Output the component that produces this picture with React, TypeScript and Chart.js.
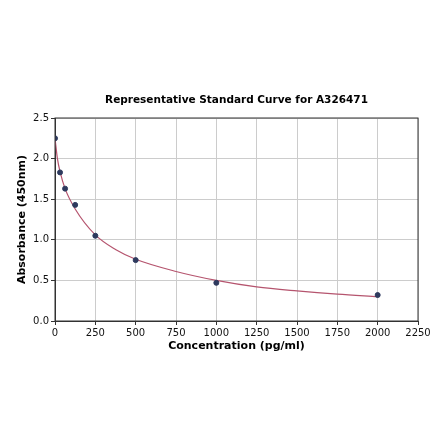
import React, { useEffect, useRef } from 'react';
import { Chart, registerables } from 'chart.js';

Chart.register(...registerables);

// standard points (concentration pg/ml -> absorbance)
const standardConc = [0, 31.25, 62.5, 125, 250, 500, 1000, 2000];
const standardOD = [2.25, 1.83, 1.63, 1.43, 1.05, 0.75, 0.47, 0.32];

// fitted curve
const curveConc = [0, 15, 31.25, 62.5, 125, 250, 375, 500, 750, 1000, 1250, 1500, 1750, 2000];
const curveOD = [2.25, 2.0, 1.84, 1.63, 1.38, 1.06, 0.88, 0.76, 0.61, 0.5, 0.42, 0.37, 0.33, 0.3];

const TITLE = 'Representative Standard Curve for A326471';
const FONT = "'DejaVu Sans', sans-serif";

// plot frame + title centred over the plot area
const frame = {
  id: 'frame',
  afterDraw(chart: Chart) {
    const { ctx, chartArea } = chart;
    ctx.save();
    ctx.strokeStyle = '#333333';
    ctx.lineWidth = 1;
    ctx.strokeRect(chartArea.left, chartArea.top, chartArea.right - chartArea.left, chartArea.bottom - chartArea.top);
    ctx.fillStyle = '#000';
    ctx.font = `bold 10.5px ${FONT}`;
    ctx.textAlign = 'center';
    ctx.textBaseline = 'middle';
    ctx.fillText(TITLE, (chartArea.left + chartArea.right) / 2, chartArea.top - 18);
    ctx.restore();
  },
};

const App: React.FC = () => {
  const canvasRef = useRef<HTMLCanvasElement>(null);
  const chartRef = useRef<Chart | null>(null);

  useEffect(() => {
    if (!canvasRef.current) return;
    if (chartRef.current) chartRef.current.destroy();

    chartRef.current = new Chart(canvasRef.current, {
      type: 'scatter',
      data: {
        datasets: [
          {
            label: 'Fit',
            data: curveConc.map((x, i) => ({ x, y: curveOD[i] })),
            showLine: true,
            borderColor: '#b5546e',
            borderWidth: 1.2,
            pointRadius: 0,
            cubicInterpolationMode: 'monotone',
            order: 2,
          },
          {
            label: 'Standards',
            data: standardConc.map((x, i) => ({ x, y: standardOD[i] })),
            backgroundColor: '#2e3a5e',
            borderColor: '#2e3a5e',
            pointRadius: 2.5,
            order: 1,
          },
        ],
      },
      options: {
        animation: false,
        responsive: true,
        maintainAspectRatio: false,
        layout: { padding: { left: 16, right: 22, top: 118, bottom: 88 } },
        plugins: {
          legend: { display: false },
          tooltip: { enabled: false },
          title: { display: false },
        },
        scales: {
          x: {
            type: 'linear',
            min: 0,
            max: 2250,
            ticks: {
              stepSize: 250,
              color: '#111',
              font: { family: FONT, size: 10 },
              maxRotation: 0,
              padding: 2,
              callback: (v: any) => String(v),
            },
            grid: { color: '#cccccc', tickLength: 4, tickColor: '#333' },
            border: { color: '#333' },
            title: {
              display: true,
              text: 'Concentration (pg/ml)',
              color: '#000',
              font: { family: FONT, size: 11, weight: 'bold' },
              padding: 0,
            },
            afterFit: (s: any) => { s.height = 32; },
          },
          y: {
            type: 'linear',
            min: 0,
            max: 2.5,
            ticks: {
              stepSize: 0.5,
              color: '#111',
              font: { family: FONT, size: 10 },
              padding: 2,
              callback: (v: any) => Number(v).toFixed(1),
            },
            grid: { color: '#cccccc', tickLength: 4, tickColor: '#333' },
            border: { color: '#333' },
            title: {
              display: true,
              text: 'Absorbance (450nm)',
              color: '#000',
              font: { family: FONT, size: 11, weight: 'bold' },
              padding: 0,
            },
            afterFit: (s: any) => { s.width = 39; },
          },
        },
      },
      plugins: [frame],
    });

    return () => {
      if (chartRef.current) {
        chartRef.current.destroy();
        chartRef.current = null;
      }
    };
  }, []);

  return (
    <div style={{ position: 'fixed', left: 0, top: 0, width: '440px', height: '441px', background: '#fff' }}>
      <canvas ref={canvasRef}></canvas>
    </div>
  );
};

export default App;
